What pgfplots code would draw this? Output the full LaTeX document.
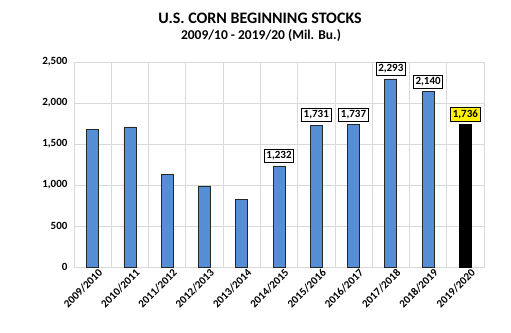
\documentclass[border=0pt]{standalone}
\usepackage{fontspec}
\setmainfont{Carlito}
\usepackage{pgfplots}
\pgfplotsset{compat=1.18}
\definecolor{barblue}{HTML}{558ED5}
\definecolor{gridgray}{HTML}{D9D9D9}
\begin{document}
\begin{tikzpicture}
\path[use as bounding box] (0pt,0pt) rectangle (511pt,332pt);
\node[font=\fontsize{16}{18}\selectfont\bfseries] at (260pt,314pt) {U.S. CORN BEGINNING STOCKS};
\node[font=\fontsize{13.5}{15}\selectfont\bfseries] at (261pt,296pt) {2009/10 - 2019/20 (Mil. Bu.)};
\begin{axis}[
  at={(74pt,65pt)}, anchor=south west,
  scale only axis, width=410pt, height=205pt,
  xmin=-0.5, xmax=10.5, ymin=0, ymax=2500,
  ytick={0,500,...,2500},
  xtick={0,...,10},
  xticklabels={2009/2010,2010/2011,2011/2012,2012/2013,2013/2014,2014/2015,2015/2016,2016/2017,2017/2018,2018/2019,2019/2020},
  minor xtick={-0.5,0.5,...,10.5},
  xmajorgrids=false, xminorgrids=true, ymajorgrids=true,
  grid style={gridgray, line width=0.8pt},
  minor grid style={gridgray, line width=0.8pt},
  axis line style={gridgray, line width=0.8pt},
  tick style={draw=none},
  major tick length=0pt, minor tick length=0pt,
  /pgf/number format/assume math mode=true,
  /pgf/number format/1000 sep={,},
  yticklabel style={font=\fontsize{11}{12}\selectfont\bfseries, xshift=-3pt},
  xticklabel style={font=\fontsize{11}{12}\selectfont\bfseries, rotate=45, anchor=north east, inner sep=1pt, yshift=-3pt, xshift=4pt},
  ybar, bar width=12pt, bar shift=0pt,
  clip=false,
]
\addplot[fill=barblue, draw=black!85, line width=0.8pt] coordinates {
(0,1673) (1,1708) (2,1128) (3,989) (4,821)};
\addplot[fill=barblue, draw=black!85, line width=0.8pt,
  nodes near coords,
  every node near coord/.append style={font=\fontsize{11}{12}\selectfont\bfseries, draw=black, line width=0.9pt, fill=white, inner sep=2.2pt, anchor=south, yshift=3pt, /pgf/number format/assume math mode=true, /pgf/number format/1000 sep={,}}]
coordinates {(5,1232) (6,1731) (7,1737) (8,2293) (9,2140)};
\addplot[fill=black, draw=black, line width=0.8pt,
  nodes near coords,
  every node near coord/.append style={font=\fontsize{11}{12}\selectfont\bfseries, draw=black, line width=0.9pt, fill=yellow, inner sep=2.2pt, anchor=south, yshift=3pt, /pgf/number format/assume math mode=true, /pgf/number format/1000 sep={,}}]
coordinates {(10,1736)};
\end{axis}
\end{tikzpicture}
\end{document}
